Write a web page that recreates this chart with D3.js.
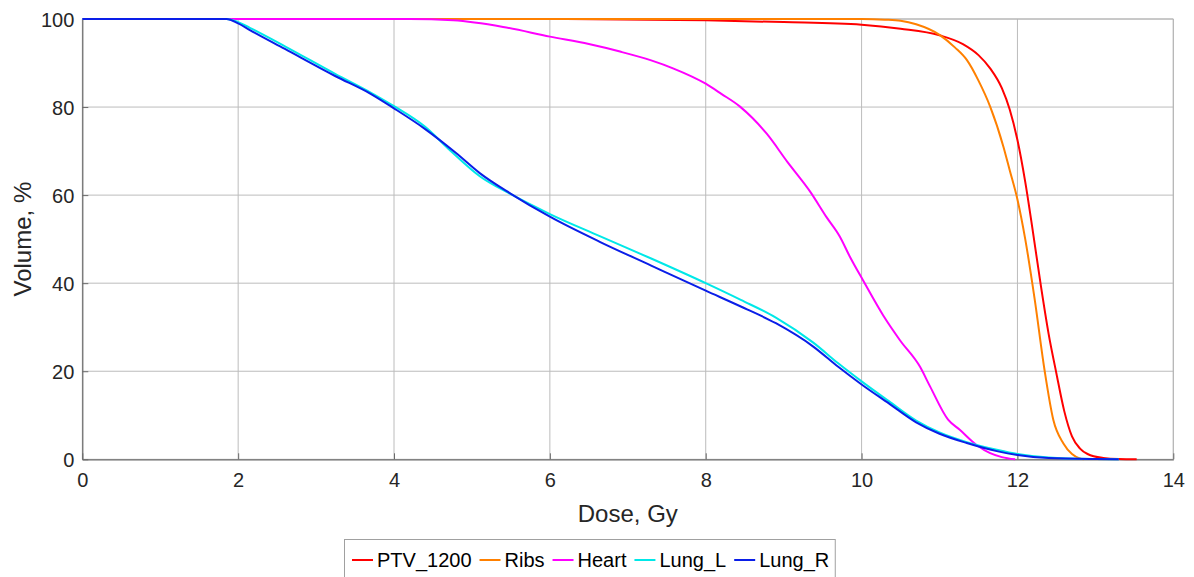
<!DOCTYPE html>
<html>
<head>
<meta charset="utf-8">
<script src="https://cdn.jsdelivr.net/npm/d3@7"></script>
<style>
  html, body { margin: 0; padding: 0; background: #ffffff; }
  svg { display: block; font-family: "Liberation Sans", Arial, Helvetica, sans-serif; }
</style>
</head>
<body>
<svg id="chart" width="1194" height="577"></svg>
<script>
const seriesNames = ["PTV_1200", "Ribs", "Heart", "Lung_L", "Lung_R"];
const seriesColors = ["#ff0000", "#ff8000", "#ff00ff", "#00e8e8", "#0a1ee8"];
const xTicks = [0, 2, 4, 6, 8, 10, 12, 14];
const yTicks = [0, 20, 40, 60, 80, 100];

const ptv1200 = [[0,100],[6,100],[8,99.7],[9,99.3],[10,98.7],[10.5,97.8],[11,96.3],[11.3,94.3],[11.5,91.8],[11.65,88.8],[11.8,84.3],[11.9,79.5],[12.0,72.5],[12.1,63],[12.2,51.5],[12.3,39.5],[12.4,28.5],[12.5,19.5],[12.6,11],[12.7,5.2],[12.8,2.5],[12.9,1.2],[13.1,0.3],[13.3,0.05],[13.53,0]];
const ribs = [[0,100],[10,100],[10.3,99.85],[10.5,99.6],[10.7,98.8],[11,96.4],[11.2,93.5],[11.35,90.7],[11.5,86],[11.65,80.1],[11.82,71],[11.9,65.7],[12.0,59],[12.1,50],[12.22,36.5],[12.35,20],[12.46,9],[12.59,3.6],[12.7,1.2],[12.8,0.2],[12.85,0]];
const heart = [[0,100],[4.2,100],[4.76,99.7],[5.4,98.2],[6.0,96.0],[6.5,94.3],[6.9,92.6],[7.3,90.6],[7.58,88.8],[8.0,85.3],[8.2,83],[8.44,80.1],[8.6,77.5],[8.78,74],[9.05,67.5],[9.34,60.8],[9.55,55],[9.72,50.6],[9.85,46],[10.02,40.6],[10.28,32.6],[10.49,27.1],[10.75,21],[10.88,16.5],[11.11,9],[11.26,6.7],[11.48,3.2],[11.65,1.4],[11.8,0.5],[11.97,0]];
const lungL = [[0,100],[1.85,100],[2.0,99.3],[2.15,98],[2.6,93.8],[3.25,87.5],[3.7,83.3],[4.0,80.2],[4.4,75.5],[4.7,70.5],[5.1,64.3],[5.5,60.2],[6.0,55.7],[6.64,50.7],[7.3,45.6],[8.0,40.0],[8.45,36.2],[8.9,32.2],[9.38,26.5],[9.7,21.8],[10.0,17.7],[10.35,13.2],[10.7,8.8],[11.0,6.1],[11.35,3.9],[11.75,2.1],[12.0,1.2],[12.4,0.4],[13.0,0.05],[13.3,0]];
const lungR = [[0,100],[1.85,100],[2.0,99],[2.15,97.5],[2.6,93.2],[3.25,87],[3.7,83],[4.0,79.7],[4.4,75],[4.8,69.5],[5.1,65],[5.5,60.3],[6.0,55.1],[6.64,49.4],[7.3,44],[8.0,38.3],[8.45,34.7],[8.9,30.9],[9.38,25.6],[9.7,21],[10.0,17],[10.35,12.7],[10.7,8.4],[11.0,5.8],[11.35,3.7],[11.75,1.8],[12.0,1.0],[12.4,0.3],[13.0,0.05],[13.3,0]];
const seriesData = [ptv1200, ribs, heart, lungL, lungR];

const svg = d3.select("#chart");
const m = { left: 82.3, right: 1173.3, top: 19, bottom: 459.3 };
const x = d3.scaleLinear().domain([0, 14]).range([m.left, m.right]);
const y = d3.scaleLinear().domain([0, 100]).range([m.bottom, m.top]);
const textColor = "#262626";

// grid
const grid = svg.append("g");
grid.selectAll(".gx").data(xTicks).join("line")
  .attr("x1", d => x(d)).attr("x2", d => x(d))
  .attr("y1", m.top).attr("y2", m.bottom)
  .attr("stroke", "#bcbcbc").attr("stroke-width", 1);
grid.selectAll(".gy").data(yTicks).join("line")
  .attr("x1", m.left).attr("x2", m.right)
  .attr("y1", d => y(d)).attr("y2", d => y(d))
  .attr("stroke", "#bcbcbc").attr("stroke-width", 1);

// box top/right
svg.append("line").attr("x1", m.left).attr("x2", m.right).attr("y1", m.top).attr("y2", m.top)
  .attr("stroke", "#b4b4b4").attr("stroke-width", 1);
svg.append("line").attr("x1", m.right).attr("x2", m.right).attr("y1", m.top).attr("y2", m.bottom)
  .attr("stroke", "#b4b4b4").attr("stroke-width", 1);

// axes
const xAxis = d3.axisBottom(x).tickValues(xTicks).tickSizeInner(-6).tickSizeOuter(0).tickPadding(14);
const yAxis = d3.axisLeft(y).tickValues(yTicks).tickSizeInner(-6).tickSizeOuter(0).tickPadding(8);
const gx = svg.append("g").attr("transform", `translate(0,${m.bottom})`).call(xAxis);
const gy = svg.append("g").attr("transform", `translate(${m.left},0)`).call(yAxis);
[gx, gy].forEach(g => {
  g.select(".domain").attr("stroke", "#6a6a6a").attr("stroke-width", 1.2);
  g.selectAll(".tick line").attr("stroke", "#6a6a6a");
  g.selectAll(".tick text").attr("fill", textColor).attr("font-size", 20)
    .attr("font-family", "'Liberation Sans', Arial, sans-serif");
});
gy.selectAll(".tick text").attr("dy", "0.36em");

// clip
svg.append("clipPath").attr("id", "clip").append("rect")
  .attr("x", m.left).attr("y", m.top - 2).attr("width", m.right - m.left + 2).attr("height", m.bottom - m.top + 4);

const line = d3.line().x(d => x(d[0])).y(d => y(d[1])).curve(d3.curveMonotoneX);
svg.append("g").attr("clip-path", "url(#clip)")
  .selectAll("path").data(seriesData).join("path")
  .attr("d", d => line(d))
  .attr("fill", "none")
  .attr("stroke", (d, i) => seriesColors[i])
  .attr("stroke-width", 2)
  .attr("stroke-linejoin", "round");

// axis labels
svg.append("text").attr("x", (m.left + m.right) / 2).attr("y", 522)
  .attr("text-anchor", "middle").attr("fill", textColor).attr("font-size", 24)
  .text("Dose, Gy");
svg.append("text").attr("transform", `translate(31,${(m.top + m.bottom) / 2}) rotate(-90)`)
  .attr("text-anchor", "middle").attr("fill", textColor).attr("font-size", 24)
  .text("Volume, %");

// legend
const lg = svg.append("g");
const box = lg.append("rect").attr("x", 344.5).attr("y", 539.5).attr("height", 45)
  .attr("fill", "#ffffff").attr("stroke", "#a0a0a0").attr("stroke-width", 1);
let cx = 352;
seriesNames.forEach((name, i) => {
  lg.append("line").attr("x1", cx).attr("x2", cx + 21).attr("y1", 560).attr("y2", 560)
    .attr("stroke", seriesColors[i]).attr("stroke-width", 2);
  const t = lg.append("text").attr("x", cx + 25).attr("y", 567)
    .attr("fill", "#000000").attr("font-size", 20).text(name);
  cx = cx + 25 + t.node().getComputedTextLength() + 8;
});
box.attr("width", cx - 8 + 6 - 344.5);
</script>
</body>
</html>
